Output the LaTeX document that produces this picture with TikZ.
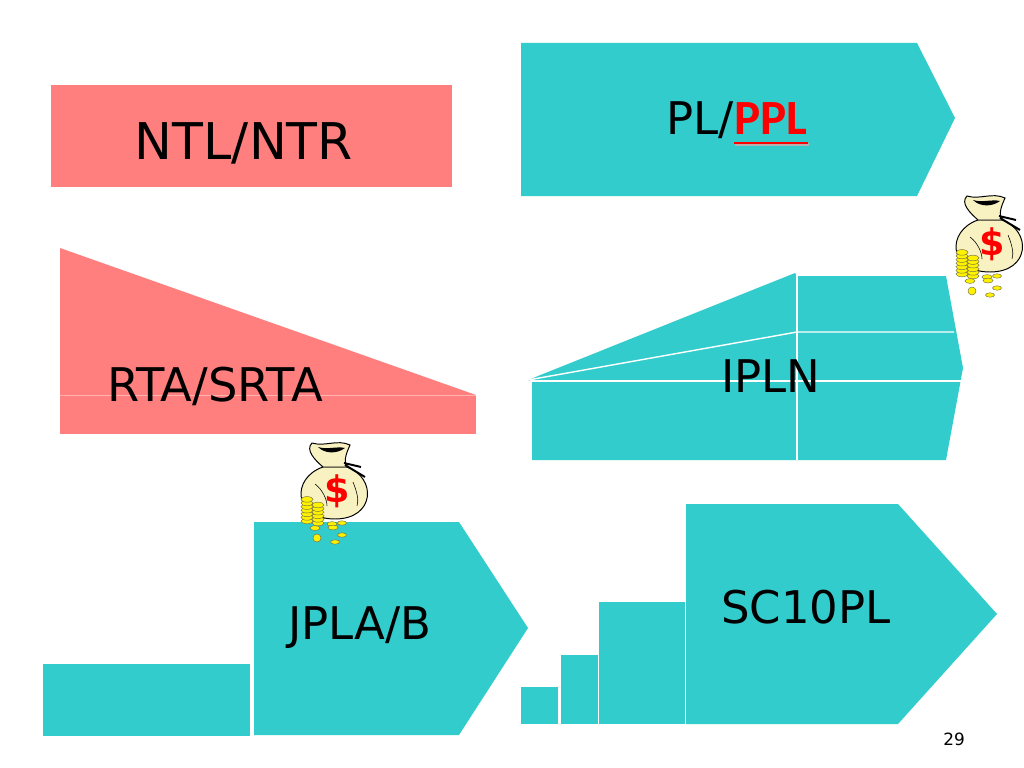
\documentclass[tikz,border=0pt]{standalone}
\usepackage{fontspec}
\setmainfont{DejaVu Sans}
\newfontfamily\pplfont{Carlito}
\usepackage{tikz}
\usetikzlibrary{positioning}

\definecolor{pinkbox}{HTML}{FF7F7F}
\definecolor{tealbox}{HTML}{33CCCC}
\definecolor{bagcream}{HTML}{F8F2C2}
\definecolor{coingold}{HTML}{FFF200}

\tikzset{coin/.style={fill=coingold,draw=black!60!yellow,line width=0.35pt}}
\tikzset{moneybag/.pic={
  \draw[fill=bagcream,line width=0.7pt] (-12,-25) .. controls (-44,-14) and (-42,27) .. (0,27) .. controls (40,27) and (42,-14) .. (12,-25) -- cycle;
  \draw[line width=0.4pt] (-20,-8) .. controls (-12,-2) and (-8,8) .. (-8,14) (18,-10) .. controls (22,0) and (24,8) .. (22,14);
  \draw[fill=bagcream,line width=0.7pt] (-12,-25) .. controls (-20,-32) and (-30,-42) .. (-23,-49) .. controls (-10,-45) and (2,-53) .. (15,-47) .. controls (12,-40) and (8,-32) .. (12,-25) -- cycle;
  \fill (-17,-45) .. controls (-8,-42) and (2,-46) .. (10,-44) .. controls (2,-38) and (-10,-38) .. (-17,-45);
  \draw[line width=1.4pt] (9,-29) -- (26,-25) (10,-27) -- (30,-15);
  \node[text=red,inner sep=0pt,font=\bfseries\fontsize{26}{26}\selectfont] (-dollar) at (2,-1) {\$};
  \foreach \i in {0,...,6} \draw[coin] (-28,29-3.6*\i) ellipse (6 and 2.8);
  \foreach \i in {0,...,5} \draw[coin] (-17,31-3.6*\i) ellipse (6 and 2.8);
  \draw[coin] (-20,36) ellipse (5 and 2.4);
  \draw[coin] (-18,46) circle (4);
  \draw[coin] (-3,32) ellipse (5 and 2.4);
  \draw[coin] (-2,35.5) ellipse (5 and 2.4);
  \draw[coin] (7,31) ellipse (4.5 and 2.2);
  \draw[coin] (7,43) ellipse (4.5 and 2.2);
  \draw[coin] (0,50) ellipse (4.5 and 2.2);
}}

\begin{document}
\begin{tikzpicture}[x=0.025cm,y=-0.025cm,
  pinkshape/.style={fill=pinkbox},
  tealshape/.style={fill=tealbox},
  label/.style={inner sep=0pt,anchor=base,font=\fontsize{32}{36}\selectfont},
  gap/.style={draw=white,line width=1pt}]
\useasboundingbox[fill=white] (0,0) rectangle (1024,768);

% NTL/NTR
\fill[pinkshape] (51,85) rectangle (452,187);
\node[label,font=\fontsize{36}{40}\selectfont] (ntl) at (244,159) {NTL/NTR};

% PL/PPL
\fill[tealshape] (521,43) -- (917,43) -- (955,118) -- (917,196) -- (521,196) -- cycle;
\node[label,anchor=base east] (pl) at (734,135) {PL/};
\node[label,anchor=base west,text=red,font=\pplfont\bfseries\fontsize{35}{40}\selectfont] (ppl) at (pl.base east) {PPL};
\draw[black!30,line width=1.6pt] ([xshift=1pt,yshift=-6.8pt]ppl.base west) -- ([xshift=1pt,yshift=-6.8pt]ppl.base east);
\draw[red,line width=1.6pt] ([yshift=-5.8pt]ppl.base west) -- ([yshift=-5.8pt]ppl.base east);

% RTA/SRTA
\fill[pinkshape] (60,248) -- (476,395) -- (60,395) -- cycle;
\fill[pinkshape] (60,395) rectangle (476,434);
\draw[white,opacity=0.4,line width=0.4pt] (60,395) -- (476,395);
\node[label,font=\fontsize{33}{36}\selectfont] (rta) at (215,401) {RTA/SRTA};

% IPLN
\fill[tealshape] (528,380) -- (795,273) -- (797,276) -- (946,276) -- (963,368) -- (946,460) -- (532,460) -- (532,382) -- cycle;
\draw[gap] (797,272) -- (797,460);
\draw[gap] (528,380) -- (797,332) -- (954,332);
\draw[gap] (530,381) -- (961,381);
\node[label] (ipln) at (771,392) {IPLN};
\pic (bagB) at (990,245) {moneybag};

% JPLA/B
\fill[tealshape] (43,664) rectangle (250,736);
\fill[tealshape] (254,522) -- (459,522) -- (528,628) -- (459,735) -- (254,735) -- cycle;
\node[label] (jpla) at (360,639) {JPLA/B};
\pic (bagA) at (335,492) {moneybag};

% SC10PL
\fill[tealshape] (521,687) rectangle (558,724);
\fill[tealshape] (561,655) rectangle (598,724);
\fill[tealshape] (599,602) rectangle (685,724);
\fill[tealshape] (686,504) -- (898,504) -- (997,614) -- (898,724) -- (686,724) -- cycle;
\node[label] (sc) at (806,623) {SC10PL};

\node[label,font=\fontsize{12}{14}\selectfont] (page) at (954,745) {29};
\end{tikzpicture}
\end{document}
